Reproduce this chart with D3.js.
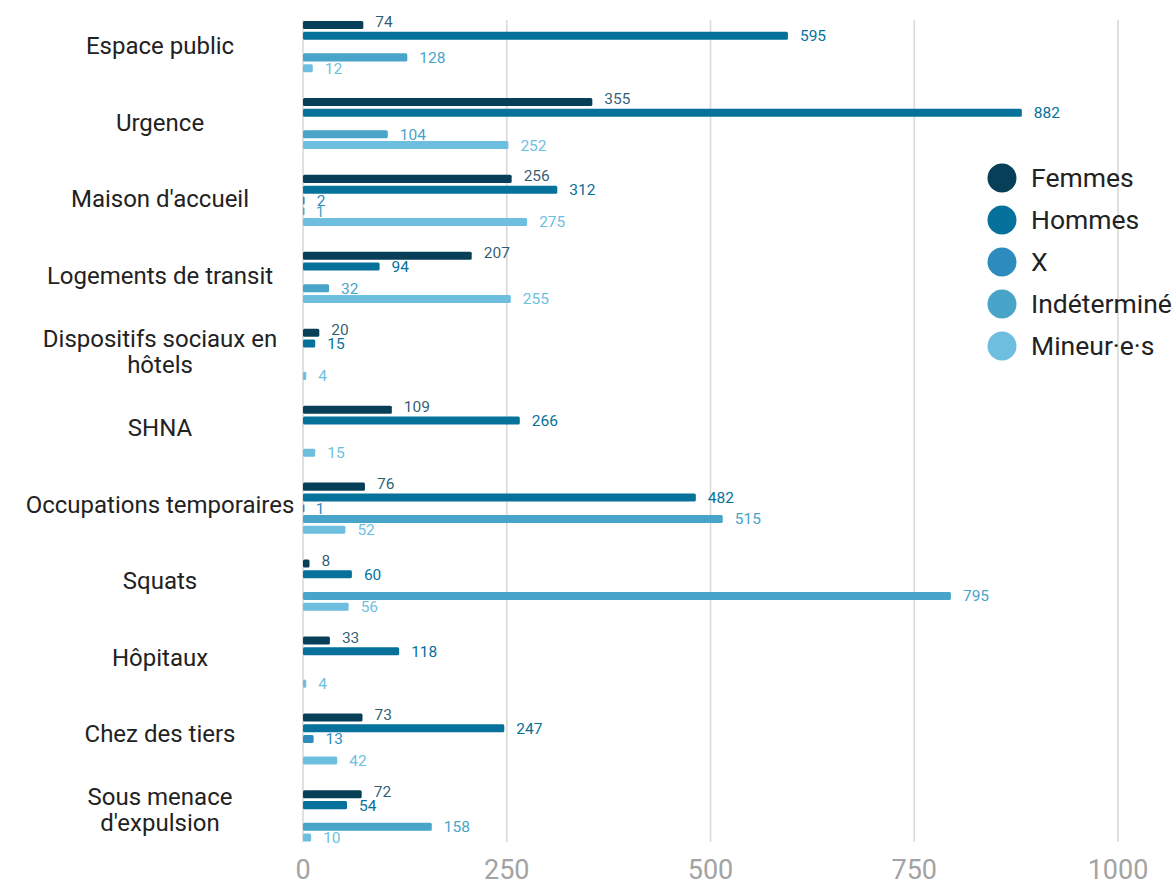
<!DOCTYPE html>
<html>
<head>
<meta charset="utf-8">
<script src="https://cdn.jsdelivr.net/npm/d3@7"></script>
<style>
  body { margin: 0; background: #fff; }
  svg { display: block; font-family: Roboto, "Noto Sans", sans-serif; }
</style>
</head>
<body>
<svg id="chart" width="1176" height="883"></svg>
<script>
// categories (multi-line labels split with \n)
const categories = [
  "Espace public", "Urgence", "Maison d'accueil", "Logements de transit",
  "Dispositifs sociaux en\nhôtels", "SHNA", "Occupations temporaires", "Squats",
  "Hôpitaux", "Chez des tiers", "Sous menace\nd'expulsion"
];
const seriesNames = ["Femmes", "Hommes", "X", "Indéterminé", "Mineur·e·s"];
const seriesColors = ["#083f58", "#06719b", "#2e8bbe", "#48a4c8", "#6ebfdf"];

// values per series (null = no bar)
const femmes      = [74, 355, 256, 207, 20, 109, 76, 8, 33, 73, 72];
const hommes      = [595, 882, 312, 94, 15, 266, 482, 60, 118, 247, 54];
const xValues     = [null, null, 2, null, null, null, 1, null, null, 13, null];
const indetermine = [128, 104, 1, 32, null, null, 515, 795, null, null, 158];
const mineurs     = [12, 252, 275, 255, 4, 15, 52, 56, 4, 42, 10];
const seriesValues = [femmes, hommes, xValues, indetermine, mineurs];

const xTicks = [0, 250, 500, 750, 1000];

const svg = d3.select("#chart");

const x = d3.scaleLinear().domain([0, 1000]).range([303, 1118]);
const y = d3.scaleBand().domain(categories).range([21, 841.5]).paddingInner(0.335).paddingOuter(0);
const ySub = d3.scaleBand().domain(seriesNames).range([0, y.bandwidth()]).paddingInner(0.256).paddingOuter(0);
// category labels are laid out a little tighter than the bar groups
const yLabel = d3.scalePoint().domain(categories).range([46, 810]);

// grid lines
svg.append("g")
  .selectAll("line")
  .data(xTicks)
  .join("line")
  .attr("x1", d => x(d)).attr("x2", d => x(d))
  .attr("y1", 20).attr("y2", 842)
  .attr("stroke", "#d9d9d9")
  .attr("stroke-width", 1.6);

// x axis tick labels
svg.append("g")
  .selectAll("text")
  .data(xTicks)
  .join("text")
  .attr("x", d => x(d))
  .attr("y", 879)
  .attr("text-anchor", "middle")
  .attr("fill", "#a3a3a3")
  .style("font-size", "27px")
  .text(d => d);

// category labels
const catG = svg.append("g");
categories.forEach(c => {
  const lines = c.split("\n");
  const cy = yLabel(c);
  const lh = 26;
  const t = catG.append("text")
    .attr("text-anchor", "middle")
    .attr("fill", "#222")
    .style("font-size", "24px");
  lines.forEach((ln, i) => {
    t.append("tspan")
      .attr("x", 160)
      .attr("y", cy + (i - (lines.length - 1) / 2) * lh)
      .attr("dy", "0.35em")
      .text(ln);
  });
});

// bars
const flat = [];
categories.forEach((c, ci) => {
  seriesNames.forEach((s, si) => {
    const v = seriesValues[si][ci];
    if (v !== null) flat.push({cat: c, series: s, si: si, value: v});
  });
});

const barG = svg.append("g");
barG.selectAll("rect")
  .data(flat)
  .join("rect")
  .attr("x", x(0))
  .attr("y", d => y(d.cat) + ySub(d.series))
  .attr("width", d => Math.max(x(d.value) - x(0), 1.5))
  .attr("height", ySub.bandwidth())
  .attr("rx", 1.5)
  .attr("fill", d => seriesColors[d.si]);

// value labels
barG.selectAll("text")
  .data(flat)
  .join("text")
  .attr("x", d => x(d.value) + 12)
  .attr("y", d => y(d.cat) + ySub(d.series) + ySub.bandwidth() / 2 + (d.si === 0 ? -3 : 0))
  .attr("dy", "0.35em")
  .attr("fill", d => seriesColors[d.si])
  .attr("fill-opacity", d => d.si === 0 ? 0.85 : 1)
  .style("font-size", "15.5px")
  .text(d => d.value);

// legend
const legend = svg.append("g");
seriesNames.forEach((s, i) => {
  const ly = 178 + i * 42;
  legend.append("circle")
    .attr("cx", 1002).attr("cy", ly).attr("r", 14.5)
    .attr("fill", seriesColors[i]);
  legend.append("text")
    .attr("x", 1031).attr("y", ly)
    .attr("dy", "0.35em")
    .attr("fill", "#222")
    .style("font-size", "26.5px")
    .text(s);
});
</script>
</body>
</html>
